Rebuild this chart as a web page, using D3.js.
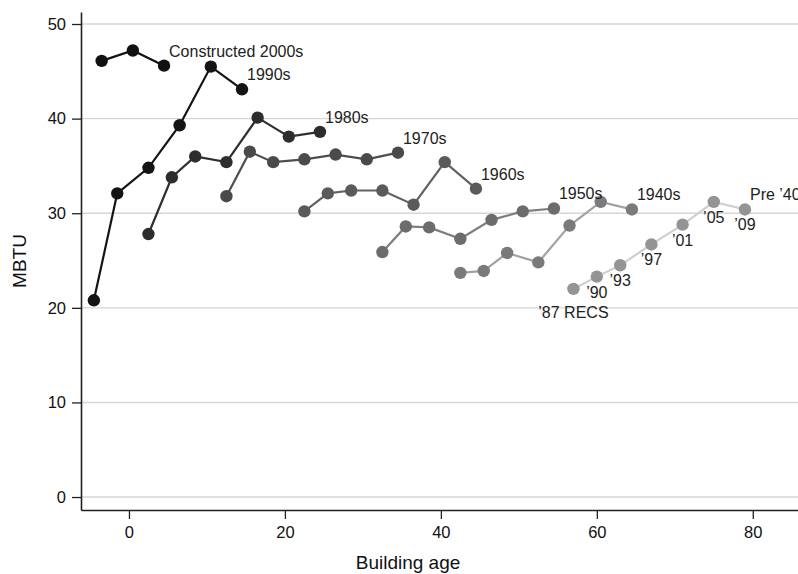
<!DOCTYPE html>
<html>
<head>
<meta charset="utf-8">
<script src="https://cdn.jsdelivr.net/npm/d3@7"></script>
<style>
  body { margin: 0; background: #fff; }
  text { font-family: "Liberation Sans", Arial, Helvetica, sans-serif; }
</style>
</head>
<body>
<script>
/**********************
 ***      Data      ***
 **********************/

// building age (survey year minus cohort midpoint) and MBTU per cohort
const ages2000s = [-3.5, 0.5, 4.5];
const mbtu2000s = [46.1, 47.2, 45.6];

const ages1990s = [-4.5, -1.5, 2.5, 6.5, 10.5, 14.5];
const mbtu1990s = [20.8, 32.1, 34.8, 39.3, 45.5, 43.1];

const ages1980s = [2.5, 5.5, 8.5, 12.5, 16.5, 20.5, 24.5];
const mbtu1980s = [27.8, 33.8, 36.0, 35.4, 40.1, 38.1, 38.6];

const ages1970s = [12.5, 15.5, 18.5, 22.5, 26.5, 30.5, 34.5];
const mbtu1970s = [31.8, 36.5, 35.4, 35.7, 36.2, 35.7, 36.4];

const ages1960s = [22.5, 25.5, 28.5, 32.5, 36.5, 40.5, 44.5];
const mbtu1960s = [30.2, 32.1, 32.4, 32.4, 30.9, 35.4, 32.6];

const ages1950s = [32.5, 35.5, 38.5, 42.5, 46.5, 50.5, 54.5];
const mbtu1950s = [25.9, 28.6, 28.5, 27.3, 29.3, 30.2, 30.5];

const ages1940s = [42.5, 45.5, 48.5, 52.5, 56.5, 60.5, 64.5];
const mbtu1940s = [23.7, 23.9, 25.8, 24.8, 28.7, 31.2, 30.4];

const agesPre40 = [57, 60, 63, 67, 71, 75, 79];
const mbtuPre40 = [22.0, 23.3, 24.5, 26.7, 28.8, 31.2, 30.4];
const surveyLabels = ["\u201987 RECS", "\u201990", "\u201993", "\u201997", "\u201901", "\u201905", "\u201909"];

const xTicks = [0, 20, 40, 60, 80];
const yTicks = [0, 10, 20, 30, 40, 50];

/**********************
 ***    Constants   ***
 **********************/

const SCREEN = { width: 798, height: 574, left: 81, top: 12, plotRight: 798, plotBottom: 510 };

// drawn lightest first so the newer cohorts sit on top
const series = [
  { name: "Pre \u201940", ages: agesPre40, mbtu: mbtuPre40, line: "#cfcfcf", dot: "#949494" },
  { name: "1940s", ages: ages1940s, mbtu: mbtu1940s, line: "#a2a2a2", dot: "#7a7a7a" },
  { name: "1950s", ages: ages1950s, mbtu: mbtu1950s, line: "#7e7e7e", dot: "#6c6c6c" },
  { name: "1960s", ages: ages1960s, mbtu: mbtu1960s, line: "#626262", dot: "#5a5a5a" },
  { name: "1970s", ages: ages1970s, mbtu: mbtu1970s, line: "#4e4e4e", dot: "#4a4a4a" },
  { name: "1980s", ages: ages1980s, mbtu: mbtu1980s, line: "#2f2f2f", dot: "#2d2d2d" },
  { name: "1990s", ages: ages1990s, mbtu: mbtu1990s, line: "#141414", dot: "#141414" },
  { name: "Constructed 2000s", ages: ages2000s, mbtu: mbtu2000s, line: "#111", dot: "#111" }
];

const x = d3.scaleLinear()
  .domain([-6.15, 85.8])
  .range([SCREEN.left, SCREEN.plotRight]);

const y = d3.scaleLinear()
  .domain([-1.37, 51.27])
  .range([SCREEN.plotBottom, SCREEN.top]);

const svg = d3.select("body").append("svg")
  .attr("width", SCREEN.width)
  .attr("height", SCREEN.height);

/******************
 * Grid and axes  *
 ******************/
svg.append("g")
  .selectAll("line")
  .data(yTicks)
  .join("line")
  .attr("x1", SCREEN.left)
  .attr("x2", SCREEN.plotRight)
  .attr("y1", d => y(d))
  .attr("y2", d => y(d))
  .attr("stroke", "#d6d6d6")
  .attr("stroke-width", 1.4);

const yAxis = svg.append("g")
  .attr("transform", `translate(${SCREEN.left},0)`)
  .call(d3.axisLeft(y).tickValues(yTicks).tickSize(9).tickSizeOuter(0).tickPadding(6));

const xAxis = svg.append("g")
  .attr("transform", `translate(0,${SCREEN.plotBottom})`)
  .call(d3.axisBottom(x).tickValues(xTicks).tickSize(9).tickSizeOuter(0).tickPadding(7));

[yAxis, xAxis].forEach(g => {
  g.select(".domain").attr("stroke", "#222").attr("stroke-width", 1.6);
  g.selectAll(".tick line").attr("stroke", "#222").attr("stroke-width", 1.3);
  g.selectAll(".tick text").attr("fill", "#111").style("font-size", "16.5px");
});

svg.append("text")
  .attr("transform", `translate(26,261) rotate(-90)`)
  .attr("text-anchor", "middle")
  .style("font-size", "19px")
  .attr("fill", "#111")
  .text("MBTU");

svg.append("text")
  .attr("x", 408)
  .attr("y", 569)
  .attr("text-anchor", "middle")
  .style("font-size", "19px")
  .attr("fill", "#111")
  .text("Building age");

/******************
 *  Cohort lines  *
 ******************/
const line = d3.line()
  .x(d => x(d[0]))
  .y(d => y(d[1]));

series.forEach(s => {
  const pts = s.ages.map((a, i) => [a, s.mbtu[i]]);
  const g = svg.append("g");

  g.append("path")
    .datum(pts)
    .attr("d", line)
    .attr("fill", "none")
    .attr("stroke", s.line)
    .attr("stroke-width", 2.2);

  g.selectAll("circle")
    .data(pts)
    .join("circle")
    .attr("cx", d => x(d[0]))
    .attr("cy", d => y(d[1]))
    .attr("r", 6.2)
    .attr("fill", s.dot);

  const last = pts[pts.length - 1];
  g.append("text")
    .attr("x", x(last[0]) + 5)
    .attr("y", y(last[1]) - 9)
    .style("font-size", "16px")
    .attr("fill", "#222")
    .text(s.name);
});

// survey year labels under the pre-1940 cohort
svg.append("g")
  .selectAll("text")
  .data(agesPre40.map((a, i) => [a, mbtuPre40[i], surveyLabels[i]]))
  .join("text")
  .attr("x", d => x(d[0]))
  .attr("y", (d, i) => y(d[1]) + (i === 0 ? 29 : 21))
  .attr("text-anchor", "middle")
  .style("font-size", "16px")
  .attr("fill", "#222")
  .text(d => d[2]);
</script>
</body>
</html>
